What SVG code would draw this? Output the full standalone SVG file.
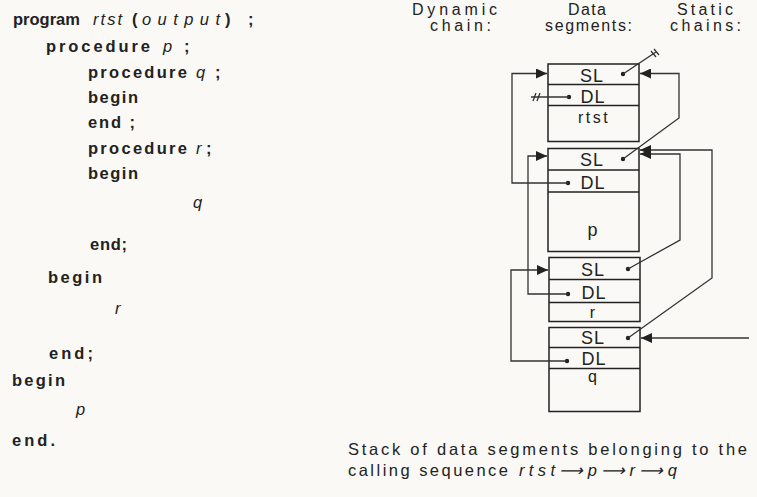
<svg xmlns="http://www.w3.org/2000/svg" width="757" height="497" viewBox="0 0 757 497">
<style>
.code{font-family:"Liberation Sans",Arial,sans-serif;font-size:16.5px;font-weight:bold;fill:#222}
.it{font-style:italic;font-weight:normal}
.hdr{font-family:"Liberation Sans",Arial,sans-serif;font-size:16px;fill:#222}
.lbl{font-family:"Liberation Sans",Arial,sans-serif;font-size:18px;fill:#222;text-anchor:middle;letter-spacing:1px}
.cap{font-family:"Liberation Sans",Arial,sans-serif;font-size:16.5px;fill:#222}
.box{fill:none;stroke:#222;stroke-width:1.5}
.div{stroke:#222;stroke-width:1.3}
.con{fill:none;stroke:#333;stroke-width:1.3}
.dot{fill:#222}
</style>
<defs>
<marker id="ah" markerUnits="userSpaceOnUse" markerWidth="12" markerHeight="10" refX="11" refY="5" orient="auto">
<path d="M0,0 L11,5 L0,10 Z" fill="#222"/>
</marker>
</defs>
<rect width="757" height="497" fill="#faf9f6"/>

<g id="code">
<text class="code" x="13" y="25">program</text>
<text class="code it" x="93" y="25" textLength="29" lengthAdjust="spacing">rtst</text>
<text class="code" x="132" y="25">(</text>
<text class="code it" x="142" y="25" textLength="78" lengthAdjust="spacing">output</text>
<text class="code" x="225" y="25">)</text>
<text class="code" x="248" y="25">;</text>
<text class="code" x="46" y="52" textLength="104" lengthAdjust="spacing">procedure</text>
<text class="code it" x="163" y="52">p</text>
<text class="code" x="184" y="52">;</text>
<text class="code" x="88" y="78" textLength="99" lengthAdjust="spacing">procedure</text>
<text class="code it" x="196" y="78">q</text>
<text class="code" x="215" y="78">;</text>
<text class="code" x="88" y="103" textLength="50" lengthAdjust="spacing">begin</text>
<text class="code" x="88" y="128" textLength="47" lengthAdjust="spacing">end ;</text>
<text class="code" x="88" y="154" textLength="99" lengthAdjust="spacing">procedure</text>
<text class="code it" x="196" y="154">r</text>
<text class="code" x="206" y="154">;</text>
<text class="code" x="88" y="179" textLength="50" lengthAdjust="spacing">begin</text>
<text class="code it" x="193" y="208">q</text>
<text class="code" x="90" y="250" textLength="37" lengthAdjust="spacing">end;</text>
<text class="code" x="48" y="283" textLength="54" lengthAdjust="spacing">begin</text>
<text class="code it" x="115" y="314">r</text>
<text class="code" x="49" y="359" textLength="44" lengthAdjust="spacing">end;</text>
<text class="code" x="12" y="386" textLength="53" lengthAdjust="spacing">begin</text>
<text class="code it" x="76" y="415">p</text>
<text class="code" x="12" y="446" textLength="43" lengthAdjust="spacing">end.</text>
</g>

<g id="headers">
<text class="hdr" x="412" y="15" textLength="85" lengthAdjust="spacing">Dynamic</text>
<text class="hdr" x="430" y="31" textLength="61" lengthAdjust="spacing">chain:</text>
<text class="hdr" x="568" y="15" textLength="38" lengthAdjust="spacing">Data</text>
<text class="hdr" x="545" y="31" textLength="87" lengthAdjust="spacing">segments:</text>
<text class="hdr" x="677" y="15" textLength="56" lengthAdjust="spacing">Static</text>
<text class="hdr" x="670" y="31" textLength="71" lengthAdjust="spacing">chains:</text>
</g>

<g id="seg-rtst">
<rect class="box" x="548" y="64" width="91" height="77.5"/>
<line class="div" x1="548" y1="84.5" x2="639" y2="84.5"/>
<line class="div" x1="548" y1="105.5" x2="639" y2="105.5"/>
<text class="lbl" x="592" y="82">SL</text>
<text class="lbl" x="593" y="103">DL</text>
<text class="lbl" x="594" y="123" style="font-size:16px;letter-spacing:2.5px">rtst</text>
<circle class="dot" cx="623" cy="74" r="2.2"/>
<circle class="dot" cx="569" cy="97" r="2.2"/>
</g>

<g id="seg-p">
<rect class="box" x="548" y="148.5" width="91" height="103"/>
<line class="div" x1="548" y1="170" x2="639" y2="170"/>
<line class="div" x1="548" y1="192" x2="639" y2="192"/>
<text class="lbl" x="592" y="166">SL</text>
<text class="lbl" x="593" y="189">DL</text>
<text class="lbl" x="593" y="236">p</text>
<circle class="dot" cx="623" cy="159" r="2.2"/>
<circle class="dot" cx="568" cy="183" r="2.2"/>
</g>

<g id="seg-r">
<rect class="box" x="549" y="257.5" width="91" height="64"/>
<line class="div" x1="549" y1="279.5" x2="640" y2="279.5"/>
<line class="div" x1="549" y1="302.5" x2="640" y2="302.5"/>
<text class="lbl" x="593" y="276">SL</text>
<text class="lbl" x="594" y="299">DL</text>
<text class="lbl" x="593" y="318" style="font-size:16px">r</text>
<circle class="dot" cx="628" cy="269" r="2.2"/>
<circle class="dot" cx="568" cy="294" r="2.2"/>
</g>

<g id="seg-q">
<rect class="box" x="549" y="327.5" width="91" height="84"/>
<line class="div" x1="549" y1="347.5" x2="640" y2="347.5"/>
<line class="div" x1="549" y1="368.5" x2="640" y2="368.5"/>
<text class="lbl" x="593" y="344">SL</text>
<text class="lbl" x="594" y="365">DL</text>
<text class="lbl" x="593" y="382" style="font-size:16px">q</text>
<circle class="dot" cx="628" cy="338" r="2.2"/>
<circle class="dot" cx="567" cy="361" r="2.2"/>
</g>

<g id="connectors">
<path class="con" d="M568,183 H512 V73.5 H547" marker-end="url(#ah)"/>
<path class="con" d="M568,294 H528 V156 H547" marker-end="url(#ah)"/>
<path class="con" d="M567,361 H511 V270 H548" marker-end="url(#ah)"/>
<path class="con" d="M623,159 L679,118 V73.5 H640" marker-end="url(#ah)"/>
<path class="con" d="M628,269 L680,240 V154 H640" marker-end="url(#ah)"/>
<path class="con" d="M628,338 L712,278 V150 H640" marker-end="url(#ah)"/>
<path class="con" d="M749,338 H641" marker-end="url(#ah)"/>
<path class="con" d="M569,97 H531"/>
<path class="con" d="M533,101 L536,93 M537,101 L540,93"/>
<path class="con" d="M623,74 L656,52"/>
<path class="con" d="M651,51 L656,57 M654,49 L659,55"/>
</g>

<g id="caption">
<text class="cap" x="348" y="455" textLength="399" lengthAdjust="spacing">Stack of data segments belonging to the</text>
<text class="cap" x="348" y="476" textLength="160" lengthAdjust="spacing">calling sequence</text>
<text class="cap" x="519" y="476" font-style="italic" textLength="158" lengthAdjust="spacing">rtst⟶p⟶r⟶q</text>
</g>
</svg>
